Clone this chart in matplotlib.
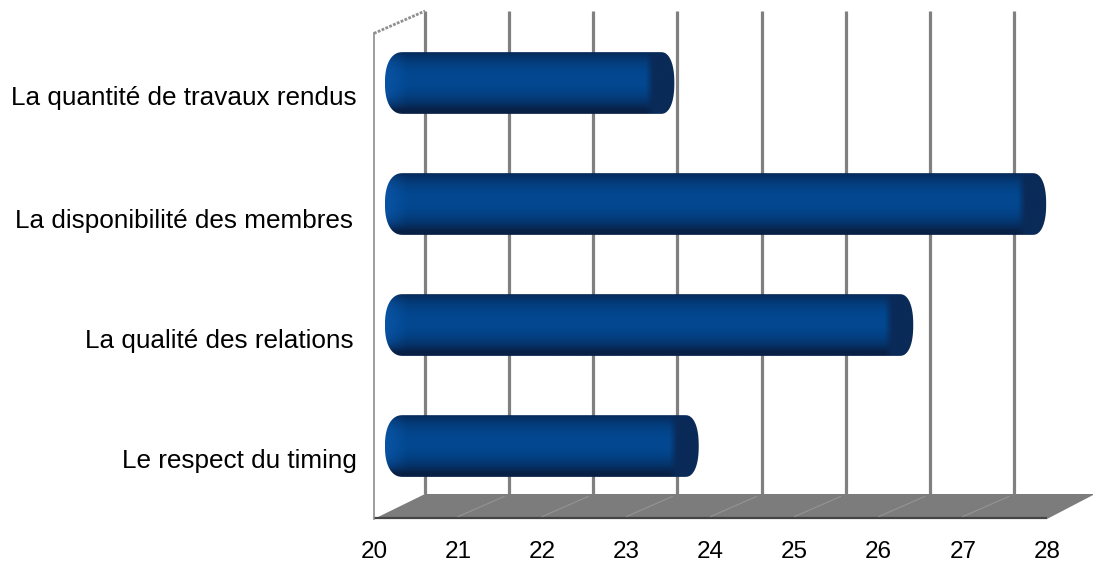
import numpy as np
import matplotlib
matplotlib.use('Agg')
import matplotlib.pyplot as plt
from matplotlib.patches import Polygon, PathPatch
from matplotlib.path import Path

plt.rcParams['font.family'] = ['Liberation Sans', 'DejaVu Sans']

categories = ['Le respect du timing', 'La qualité des relations',
              'La disponibilité des membres', 'La quantité de travaux rendus']
values = [23.73, 26.28, 27.86, 23.44]
xticks = [20, 21, 22, 23, 24, 25, 26, 27, 28]

# label nudges in points, the source picture has them a bit off the bars
label_dx = [-12.2, -15, -15, -12.2]
label_dy = [-10.9, -11.4, -11.9, -10.9]

# fake 3d depth, in data units
DX = 51 / 84.1
DY = 25 / 121
BAR_DX = 0.13
BAR_H = 0.51
CAP_L = 0.21
CAP_R = 0.16
YMIN = -0.603
YMAX = 3.595

GREY = '#808080'


def bar_image(n_cols):
    n_rows = 64
    edge = np.array([8, 32, 70]) / 255
    mid = np.array([2, 72, 145]) / 255
    left = np.array([10, 84, 165]) / 255
    cap = np.array([10, 42, 88]) / 255
    t = np.linspace(-1, 1, n_rows)
    mix = np.clip(1 - np.abs(t + 0.12) ** 2.2, 0, 1)
    img = np.zeros((n_rows, n_cols, 3))
    for k in range(3):
        img[:, :, k] = edge[k] + (mid[k] - edge[k]) * mix[:, None]
    # lighter rounded start, dark cap at the end
    u = np.arange(n_cols)
    a = np.clip(1 - u / 22, 0, 1)[None, :, None] * mix[:, None, None]
    img = img * (1 - a) + left * a
    b = np.clip((u - (n_cols - 30)) / 8, 0, 1)[None, :, None]
    img = img * (1 - b) + cap * b
    return img


def bar_outline(x0, x1, y, h):
    # rounded ends, a bit squarer than an ellipse
    ang = np.linspace(-np.pi / 2, np.pi / 2, 40)
    c = np.abs(np.cos(ang)) ** (2 / 2.3)
    s = np.sign(np.sin(ang)) * np.abs(np.sin(ang)) ** (2 / 2.3)
    xs = np.r_[x1 - CAP_R + CAP_R * c, x0 + CAP_L - CAP_L * c[::-1]]
    ys = np.r_[y + h / 2 * s, y + h / 2 * s[::-1]]
    return np.column_stack([xs, ys])


fig = plt.figure(figsize=(10.93, 5.65), dpi=100)
ax = fig.add_axes([374 / 1093, 46 / 565, 673 / 1093, 508 / 565])

# floor
floor = Polygon([(20, YMIN), (28, YMIN), (28 + 48 / 84.1, YMIN + DY), (20 + DX, YMIN + DY)],
                closed=True, facecolor='#7c7c7c', edgecolor='none', zorder=1, clip_on=False)
ax.add_patch(floor)
ax.plot([20, 28], [YMIN + 0.012, YMIN + 0.012], color='#444444', lw=1.6, zorder=2, solid_capstyle='butt')
for x in xticks[1:-1]:
    ax.plot([x, x + DX * 0.9], [YMIN + 0.02, YMIN + DY * 0.9], color='#a8a8a8', lw=0.8, alpha=0.55, zorder=2)

# back gridlines
for x in xticks[:-1]:
    ax.plot([x + DX, x + DX], [YMIN + DY, YMAX], color=GREY, lw=2.3, zorder=1, solid_capstyle='butt')

# left wall
ax.plot([20, 20], [YMIN, 3.41], color='#8c8c8c', lw=1.2, zorder=2)
ax.plot([20, 20 + DX], [3.41, 3.595], color='#909090', lw=2, ls=(0, (1, 0.5)), zorder=2)

# bars
for i, v in enumerate(values):
    x0 = 20 + BAR_DX
    x1 = v + BAR_DX
    y0 = i - BAR_H / 2
    y1 = i + BAR_H / 2
    im = ax.imshow(bar_image(int((x1 - x0) * 84.1)), extent=(x0, x1, y0, y1),
                   aspect='auto', origin='upper', interpolation='bilinear', zorder=3)
    patch = PathPatch(Path(bar_outline(x0, x1, i, BAR_H)), transform=ax.transData,
                      facecolor='none', edgecolor='none')
    ax.add_patch(patch)
    im.set_clip_path(patch)

ax.set_xlim(20, 28)
ax.set_ylim(YMIN, YMAX)
ax.set_xticks(xticks)
ax.set_yticks([])
for i, name in enumerate(categories):
    ax.annotate(name, (20, i), xytext=(label_dx[i], label_dy[i]), textcoords='offset points',
                ha='right', va='center', fontsize=18.85, annotation_clip=False)
ax.tick_params(axis='both', length=0)
ax.tick_params(axis='x', labelsize=17.5, pad=16.2)
for s in ax.spines.values():
    s.set_visible(False)
ax.patch.set_alpha(0)
for line in ax.lines:
    line.set_clip_on(False)

fig.savefig('out.png', dpi=100)
